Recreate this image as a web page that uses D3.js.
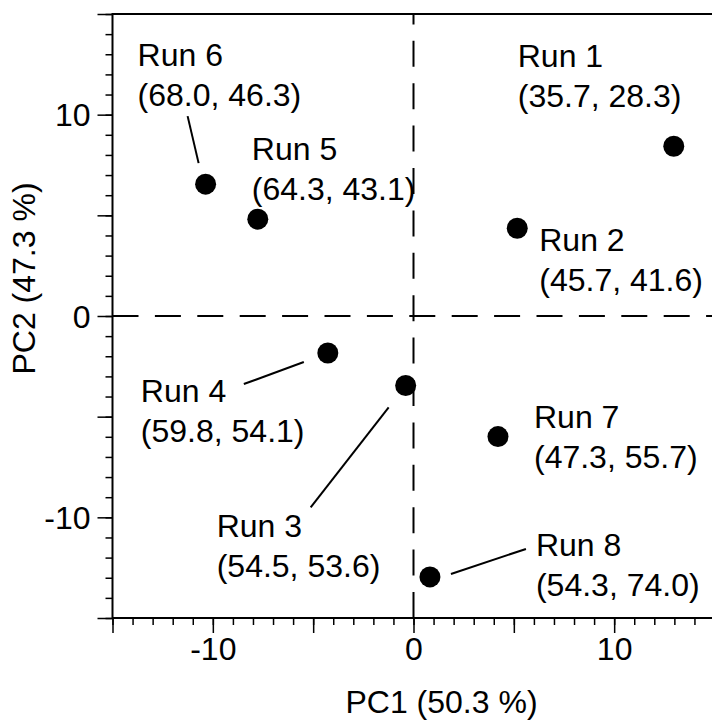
<!DOCTYPE html>
<html>
<head>
<meta charset="utf-8">
<script src="https://cdn.jsdelivr.net/npm/d3@7"></script>
<style>
  html, body { margin: 0; padding: 0; background: #fff; }
  svg { display: block; font-family: "Liberation Sans", Arial, Helvetica, sans-serif; }
</style>
</head>
<body>
<svg id="chart" width="712" height="726"></svg>
<script>
// PCA scores per run
const runs = ["Run 1", "Run 2", "Run 3", "Run 4", "Run 5", "Run 6", "Run 7", "Run 8"];
const pc1 = [12.97, 5.17, -0.39, -4.27, -7.76, -10.36, 4.21, 0.82];
const pc2 = [8.43, 4.36, -3.45, -1.84, 4.81, 6.55, -5.99, -12.96];
const pairs = ["(35.7, 28.3)", "(45.7, 41.6)", "(54.5, 53.6)", "(59.8, 54.1)",
               "(64.3, 43.1)", "(68.0, 46.3)", "(47.3, 55.7)", "(54.3, 74.0)"];

const xTickLabels = [-10, 0, 10];
const yTickLabels = [-10, 0, 10];
const xTitle = "PC1 (50.3 %)";
const yTitle = "PC2 (47.3 %)";

// label placement relative to the point (px), and optional leader line ends
const labelOffsets = [
  { dx: -156, dy: -79 },
  { dx: 22, dy: 23 },
  { dx: -189, dy: 152, line: [[-95, 122], [-17, 22]] },
  { dx: -187, dy: 49, line: [[-84, 31], [-24, 9]] },
  { dx: -6, dy: -59 },
  { dx: -68, dy: -118, line: [[-18, -68], [-7, -21]] },
  { dx: 36, dy: -9 },
  { dx: 106, dy: -21, line: [[21, -3], [96, -28]] }
];

const fontSize = 32;
const lineGap = 40;

const $svg = d3.select("svg#chart");

const x = d3.scaleLinear().domain([-15, 15]).range([112.5, 714.5]);
const y = d3.scaleLinear().domain([-15, 15]).range([618, 14]);

const frameL = x(-15), frameR = x(15), frameT = y(15), frameB = y(-15);

// plain hyphen for negatives, like the original
const fmt = (d) => String(d);

// axes: minor, major, labelled
function addAxis(axisFn, transform, values, size, labels, pad) {
  const g = $svg.append("g")
    .attr("transform", transform)
    .call(axisFn.tickValues(values).tickSize(size).tickPadding(pad || 3)
      .tickFormat(labels ? fmt : ""));
  g.select(".domain").remove();
  g.selectAll("line").attr("stroke", "#000").attr("stroke-width", 1.5);
  g.selectAll("text").attr("font-size", fontSize).attr("fill", "#000")
    .style("font-family", "inherit");
  return g;
}

addAxis(d3.axisBottom(x), `translate(0,${frameB})`, d3.range(-15, 16, 1), 7, false);
addAxis(d3.axisBottom(x), `translate(0,${frameB})`, d3.range(-15, 16, 5), 15, false);
const gxl = addAxis(d3.axisBottom(x), `translate(0,${frameB})`, xTickLabels, 15, true, 4);
gxl.selectAll("line").remove();

addAxis(d3.axisLeft(y), `translate(${frameL},0)`, d3.range(-15, 16, 1), 7, false);
addAxis(d3.axisLeft(y), `translate(${frameL},0)`, d3.range(-15, 16, 5), 15, false);
const gyl = addAxis(d3.axisLeft(y), `translate(${frameL},0)`, yTickLabels, 15, true, 7);
gyl.selectAll("line").remove();
gyl.selectAll("text").attr("dy", "0.35em");

// frame
$svg.append("rect")
  .attr("x", frameL).attr("y", frameT)
  .attr("width", frameR - frameL).attr("height", frameB - frameT)
  .attr("fill", "none").attr("stroke", "#000").attr("stroke-width", 2);

// zero lines (dashed)
$svg.append("line")
  .attr("x1", x(0)).attr("x2", x(0)).attr("y1", frameB).attr("y2", frameT)
  .attr("stroke", "#000").attr("stroke-width", 2).attr("stroke-dasharray", "26,16.4");
$svg.append("line")
  .attr("x1", frameL).attr("x2", frameR).attr("y1", y(0)).attr("y2", y(0))
  .attr("stroke", "#000").attr("stroke-width", 2).attr("stroke-dasharray", "26,16.4");

const data = runs.map((name, i) => ({
  name, pair: pairs[i], px: x(pc1[i]), py: y(pc2[i]), off: labelOffsets[i]
}));

// leader lines
$svg.append("g").selectAll("line")
  .data(data.filter((d) => d.off.line))
  .join("line")
  .attr("x1", (d) => d.px + d.off.line[0][0])
  .attr("y1", (d) => d.py + d.off.line[0][1])
  .attr("x2", (d) => d.px + d.off.line[1][0])
  .attr("y2", (d) => d.py + d.off.line[1][1])
  .attr("stroke", "#000").attr("stroke-width", 2);

// points
$svg.append("g").selectAll("circle")
  .data(data)
  .join("circle")
  .attr("cx", (d) => d.px)
  .attr("cy", (d) => d.py)
  .attr("r", 10.5)
  .attr("fill", "#000");

// labels
const $labels = $svg.append("g").selectAll("text")
  .data(data)
  .join("text")
  .attr("font-size", fontSize)
  .attr("fill", "#000");

$labels.append("tspan")
  .attr("x", (d) => d.px + d.off.dx)
  .attr("y", (d) => d.py + d.off.dy)
  .text((d) => d.name);
$labels.append("tspan")
  .attr("x", (d) => d.px + d.off.dx)
  .attr("y", (d) => d.py + d.off.dy + lineGap)
  .text((d) => d.pair);

// axis titles
$svg.append("text")
  .attr("x", 441.5).attr("y", 713)
  .attr("text-anchor", "middle")
  .attr("font-size", fontSize)
  .text(xTitle);

$svg.append("text")
  .attr("transform", "translate(35,278.5) rotate(-90)")
  .attr("text-anchor", "middle")
  .attr("font-size", fontSize)
  .text(yTitle);
</script>
</body>
</html>
